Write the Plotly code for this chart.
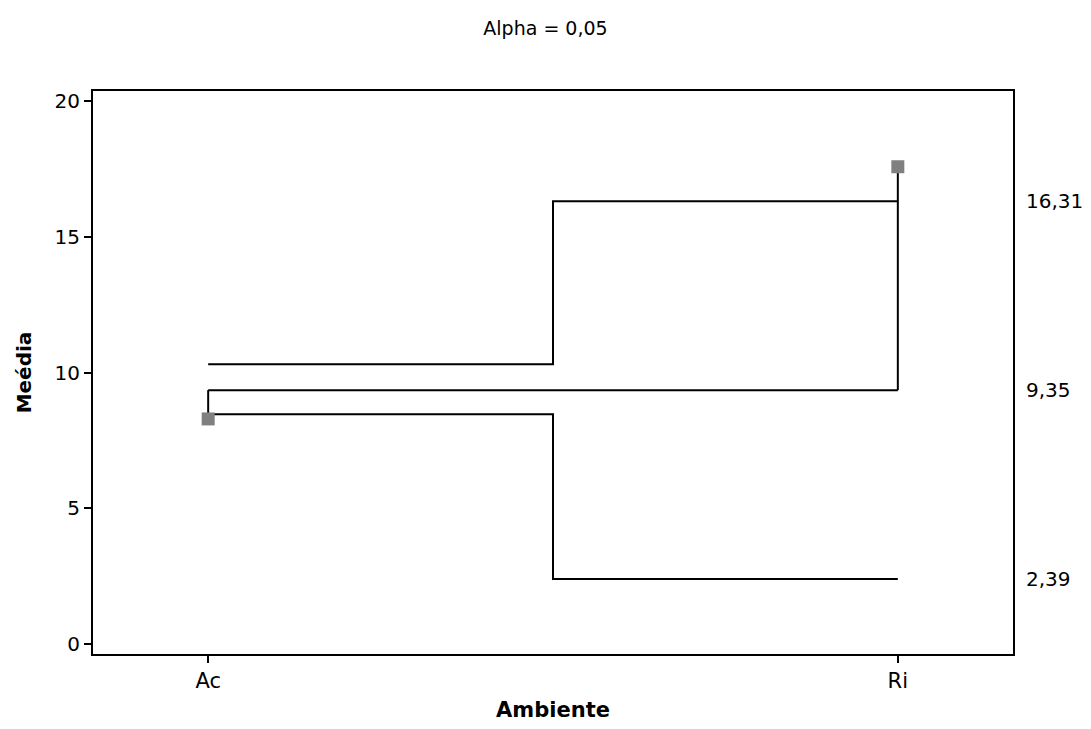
import plotly.graph_objects as go

categories = ["Ac", "Ri"]
means = [8.29, 17.58]
center = 9.35
udl = [10.30, 16.31]
ldl = [8.46, 2.39]
limit_labels = ["16,31", "9,35", "2,39"]
limit_values = [16.31, 9.35, 2.39]

xpos = list(range(len(categories)))
black = "#000000"
fig = go.Figure()

# decision limits (step lines)
fig.add_trace(go.Scatter(x=xpos, y=udl, mode="lines", line=dict(color=black, width=2, shape="hvh"),
                         hoverinfo="skip"))
fig.add_trace(go.Scatter(x=xpos, y=ldl, mode="lines", line=dict(color=black, width=2, shape="hvh"),
                         hoverinfo="skip"))
# center line
fig.add_trace(go.Scatter(x=[xpos[0], xpos[-1]], y=[center, center], mode="lines",
                         line=dict(color=black, width=2), hoverinfo="skip"))
# connectors from means to center line
for xi, m in zip(xpos, means):
    fig.add_trace(go.Scatter(x=[xi, xi], y=[m, center], mode="lines",
                             line=dict(color=black, width=2), hoverinfo="skip"))
# means
fig.add_trace(go.Scatter(x=xpos, y=means, mode="markers",
                         marker=dict(symbol="square", size=13, color="#808080",
                                     line=dict(width=0))))

for lab, v in zip(limit_labels, limit_values):
    fig.add_annotation(x=1.012, xref="paper", y=v, yref="y", text=lab, showarrow=False,
                       xanchor="left", yanchor="middle",
                       font=dict(family="DejaVu Sans", size=20, color=black))

fig.update_layout(
    width=1091, height=729,
    margin=dict(l=93, r=78, t=91, b=75),
    paper_bgcolor="white", plot_bgcolor="white",
    showlegend=False,
    title=dict(text="Alpha = 0,05", x=0.5, xref="container", xanchor="center",
               y=1 - 28 / 729, yref="container", yanchor="middle",
               font=dict(family="DejaVu Sans", size=19, color=black)),
    font=dict(family="DejaVu Sans", size=20, color=black),
)
fig.update_xaxes(range=[-0.167, 1.167], tickvals=xpos, ticktext=categories,
                 showgrid=False, zeroline=False, showline=True, linecolor=black, linewidth=2,
                 mirror=True, ticks="outside", ticklen=7, tickwidth=1.5, tickcolor=black,
                 tickfont=dict(family="DejaVu Sans", size=21),
                 title=dict(text="<b>Ambiente</b>", standoff=10,
                            font=dict(family="DejaVu Sans", size=21)))
fig.update_yaxes(range=[-0.37, 20.37], tickvals=[0, 5, 10, 15, 20],
                 showgrid=False, zeroline=False, showline=True, linecolor=black, linewidth=2,
                 mirror=True, ticks="outside", ticklen=7, tickwidth=1.5, tickcolor=black,
                 tickfont=dict(family="DejaVu Sans", size=20),
                 title=dict(text="<b>Meédia</b>", standoff=18,
                            font=dict(family="DejaVu Sans", size=20)))

fig.write_html("out.html")
